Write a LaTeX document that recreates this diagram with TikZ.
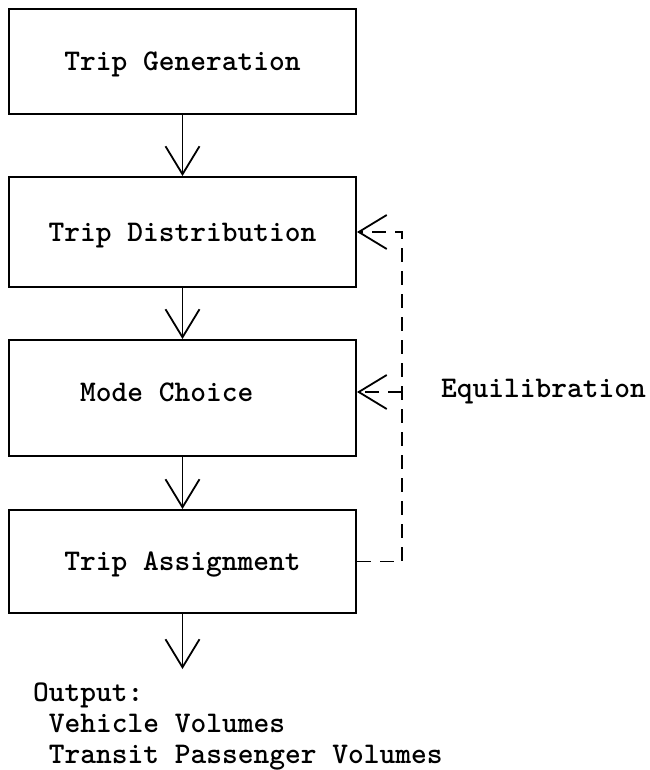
\documentclass[tikz,border=0pt]{standalone}
\usetikzlibrary{arrows.meta,positioning}

\begin{document}
\begin{tikzpicture}[x=1pt,y=-1pt,
    stage/.style={draw, line width=2pt, minimum width=347pt, inner sep=0pt,
      text height=18pt, text depth=0pt, font=\fontsize{30}{32}\selectfont\ttfamily\bfseries},
    flow/.style={line width=1.8pt, -{Straight Barb[length=28pt,width=34pt]}},
    feedback/.style={flow, dash pattern=on 14pt off 9pt}]
    \useasboundingbox (0,0) rectangle (649,770);
    % Column of model stages
    \def\cx{182.5}
    \def\fx{402}
    \node[stage, minimum height=105pt] (gen) at (\cx,61.5) {Trip Generation};
    \node[stage, minimum height=110pt] (dist) at (\cx,232) {Trip Distribution};
    \node[stage, minimum height=116pt, text depth=12pt] (mode) at (\cx,398) {Mode Choice\hspace*{1.05em}};
    \node[stage, minimum height=103pt] (assign) at (\cx,561.5) {Trip Assignment};

    % Solid arrows down the column
    \foreach \a/\b in {gen/dist, dist/mode, mode/assign}
      \draw[flow] (\a) -- (\b);
    \coordinate (end) at (\cx,669);
    \draw[flow] (assign) -- (end);

    % Results
    \node[anchor=north west, align=left, inner sep=0pt,
      font=\fontsize{30}{31}\selectfont\ttfamily\bfseries] (out) at (33,683)
      {Output:\\\hspace*{0.525em}Vehicle Volumes\\\hspace*{0.525em}Transit Passenger Volumes};

    % Dashed feedback loop
    \draw[feedback] (assign.east) -- (assign.east -| \fx,0) -- (dist.east -| \fx,0) -- (dist.east);
    \coordinate (j) at (\fx,392);
    \draw[feedback] (j) -- (mode.east |- j);
    \node[right=39pt of j, inner sep=0pt, font=\fontsize{30}{32}\selectfont\ttfamily\bfseries] (eq) {Equilibration};
\end{tikzpicture}
\end{document}
